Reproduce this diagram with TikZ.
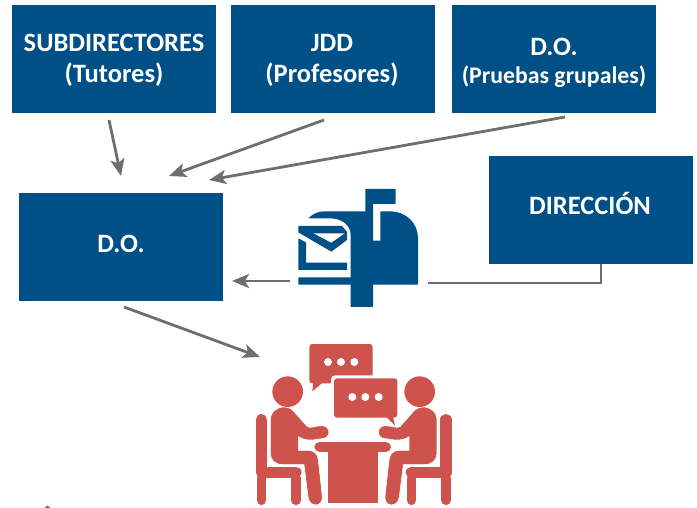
\documentclass[tikz,border=0pt]{standalone}
\usepackage{fontspec}
\setmainfont{Carlito}
\usetikzlibrary{arrows.meta}
\definecolor{boxblue}{RGB}{0,80,136}
\definecolor{arrowgray}{RGB}{109,110,113}
\definecolor{peoplered}{RGB}{205,83,76}
\tikzset{
  bluebox/.style={rectangle,fill=boxblue,minimum width=204pt,minimum height=108pt,inner sep=0pt},
  boxtext/.style={text=white,inner sep=0pt,align=center,font=\fontsize{26.5}{32}\selectfont\bfseries},
  conn/.style={draw=arrowgray,line width=2.8pt,-{Stealth[length=17pt,width=14pt,inset=4pt]}},
  plainconn/.style={draw=arrowgray,line width=2.8pt},
  mail/.style={fill=boxblue},
  redfill/.style={fill=peoplered},
  redline/.style={draw=peoplered,line cap=round,line join=round}
}
\newcommand{\personshape}{%
  % chair
  \draw[redline,line width=11.3pt] (94,269) -- (94,427) -- (198,427);
  \draw[redline,line width=9.5pt] (94,445) -- (94,511);
  \draw[redline,line width=9.5pt] (198,445) -- (198,511);
  % torso, arm, leg
  \fill[redfill,draw=white,line width=0.6pt] (121,272) .. controls (121,245) and (140,231) .. (163,231) .. controls (180,231) and (190,241) .. (200,254) -- (232,290) .. controls (240,296) and (260,287) .. (275,287) .. controls (304,287) and (304,326) .. (275,326) .. controls (255,329) and (230,336) .. (205,320) -- (205,361) -- (235,361) .. controls (252,361) and (263,372) .. (265,390) -- (277,500) .. controls (279,533) and (237,533) .. (234,500) -- (222,404) -- (160,404) .. controls (135,404) and (121,390) .. (121,370) -- cycle;
  \fill[redfill] (173,185) circle[radius=46];
}
\begin{document}
\begin{tikzpicture}[x=1pt,y=-1pt]
\useasboundingbox (0,0) rectangle (697,508);
\node[bluebox] (sub) at (114,59) {};
\node[bluebox] (jdd) at (333,59) {};
\node[bluebox] (dop) at (554,59) {};
\node[bluebox] (dir) at (591,210) {};
\node[bluebox] (do) at (121,247) {};
\node[boxtext] (subt) at (114,60.5) {\shortstack{SUBDIRECTORES\\[8pt](Tutores)}};
\node[boxtext] (jddt) at (332,60.5) {\shortstack{JDD\\[8pt](Profesores)}};
\node[boxtext] (dopt) at (554,63) {\shortstack{D.O.\\[7pt]{\fontsize{23.8}{26}\selectfont (Pruebas grupales)}}};
\node[boxtext,anchor=base] (dirt) at (590,214.5) {DIRECCIÓN};
\node[boxtext,anchor=base] (dot) at (121,252.5) {D.O.};

\coordinate (a1s) at (109,120); \coordinate (a1e) at (121,176);
\coordinate (a2s) at (324,120); \coordinate (a2e) at (169,176);
\coordinate (a3s) at (565,117); \coordinate (a3e) at (209,180);
\coordinate (a4s) at (290,281); \coordinate (a4e) at (232,281);
\coordinate (a5s) at (124,307); \coordinate (a5e) at (260,357);
\coordinate (boxend) at (428,283);
\draw[conn] (a1s) -- (a1e);
\draw[conn] (a2s) -- (a2e);
\draw[conn] (a3s) -- (a3e);
\draw[conn] (a4s) -- (a4e);
\draw[conn] (a5s) -- (a5e);
\draw[plainconn] ([xshift=10pt]dir.south) |- (boxend);

% mailbox (1/3 px units, zoom coordinates)
\begin{scope}[shift={(230,170)},x=0.33333pt,y=-0.33333pt]
\fill[mail] (235,145) .. controls (250,130) and (265,124) .. (285,124) -- (406,124) -- (406,57) -- (497,57) -- (497,102) -- (429,102) -- (429,212) -- (451,212) -- (451,124) -- (478,124) .. controls (530,124) and (564,160) .. (564,205) -- (564,344) -- (429,344) -- (429,411) -- (362,411) -- (362,344) -- (205,344) -- (205,322) -- (362,322) -- (362,195) .. controls (362,165) and (335,145) .. (300,145) -- cycle;
\fill[mail] (205,168) -- (336,168) -- (351,186) -- (351,210) -- (304,245) -- (205,187) -- cycle;
\fill[white] (251,190) -- (344,190) -- (304,218) -- cycle;
\fill[mail] (205,205) -- (228,217) -- (228,278) -- (351,278) -- (351,300) -- (205,300) -- cycle;
\end{scope}

% people
\begin{scope}[shift={(230,330)},x=0.33333pt,y=-0.33333pt]
\personshape
\begin{scope}[shift={(742,0)},x=-0.33333pt]
\personshape
\end{scope}
% table
\draw[redline,line width=10.7pt] (269,351) -- (467,351);
\fill[redfill] (293,360) rectangle (443,518);
% bubbles
\fill[redfill,rounded corners=3pt] (238,42) rectangle (428,160);
\fill[redfill] (250,155) -- (247,184) -- (278,158) -- cycle;
\fill[white,rounded corners=4pt] (303,136) rectangle (511,272);
\fill[redfill,rounded corners=3pt] (312,145) rectangle (502,263);
\fill[redfill] (468,260) -- (495,287) -- (489,260) -- cycle;
\foreach \cx in {294,333,373} \fill[white] (\cx,96) circle[radius=12];
\foreach \cx in {367,406,446} \fill[white] (\cx,201) circle[radius=12];
\end{scope}
% clipped mark at the lower edge
\fill[arrowgray] (44.5,508) -- (47.5,505.5) -- (50.5,508) -- cycle;
\end{tikzpicture}
\end{document}
